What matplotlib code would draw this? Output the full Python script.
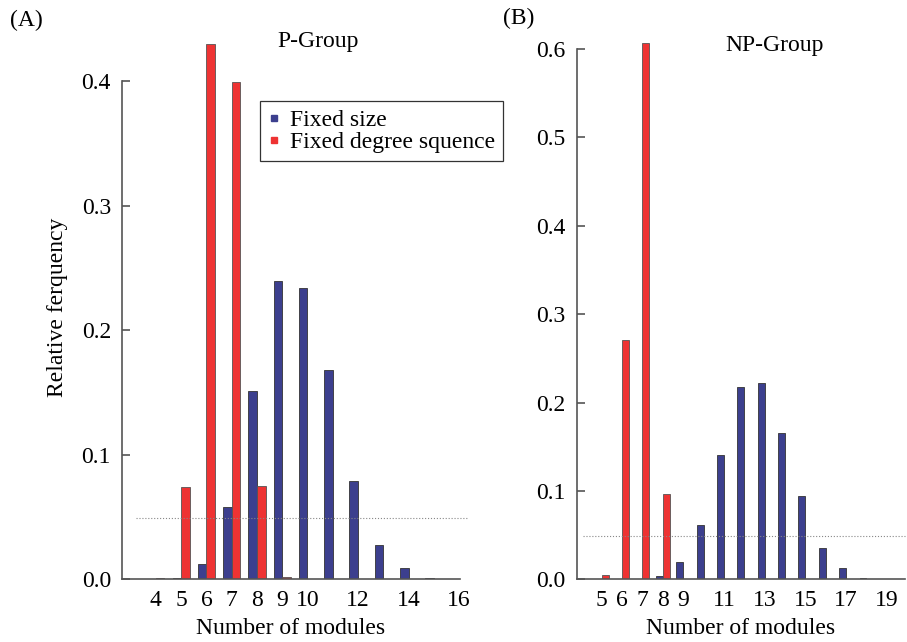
import numpy as np
import matplotlib
matplotlib.use("Agg")
import matplotlib.pyplot as plt
from matplotlib.lines import Line2D

plt.rcParams['font.family'] = ['Liberation Serif', 'DejaVu Serif']

# P-Group (A)
a_modules = [4, 5, 6, 7, 8, 9, 10, 11, 12, 13, 14, 15]
a_fixed_size = [0.0, 0.0008, 0.012, 0.058, 0.151, 0.239, 0.234, 0.168, 0.079, 0.027, 0.009, 0.001]
a_fixed_degree = [0.0008, 0.074, 0.430, 0.399, 0.075, 0.002, 0.0, 0.0, 0.0, 0.0, 0.0, 0.0]
a_xticks = [4, 5, 6, 7, 8, 9, 10, 12, 14, 16]
a_yticks = [0.0, 0.1, 0.2, 0.3, 0.4]

# NP-Group (B)
b_modules = [5, 6, 7, 8, 9, 10, 11, 12, 13, 14, 15, 16, 17, 18]
b_fixed_size = [0.0, 0.0, 0.0, 0.004, 0.020, 0.062, 0.141, 0.218, 0.222, 0.166, 0.094, 0.036, 0.013, 0.002]
b_fixed_degree = [0.005, 0.271, 0.607, 0.097, 0.0, 0.0, 0.0, 0.0, 0.0, 0.0, 0.0, 0.0, 0.0, 0.0]
b_xticks = [5, 6, 7, 8, 9, 11, 13, 15, 17, 19]
b_yticks = [0.0, 0.1, 0.2, 0.3, 0.4, 0.5, 0.6]

threshold = 0.049

BLUE = '#3c3f8e'
RED = '#ee3333'
SPINE = '#555555'
w = 0.34

fig = plt.figure(figsize=(9.07, 6.42), dpi=100)
axA = fig.add_axes([0.1345, 0.0981, 0.507 - 0.1345, 0.9455 - 0.0981])
axB = fig.add_axes([0.636, 0.0976, 0.998 - 0.636, 0.9455 - 0.0976])


def style(ax, xticks, yticks):
    for s in ['top', 'right']:
        ax.spines[s].set_visible(False)
    for s in ['left', 'bottom']:
        ax.spines[s].set_color(SPINE)
        ax.spines[s].set_linewidth(1.2)
    ax.spines['left'].set_bounds(yticks[0], yticks[-1])
    ax.set_xticks(xticks)
    ax.set_xticklabels([str(t) for t in xticks])
    ax.set_yticks(yticks)
    ax.set_yticklabels(['%.1f' % t for t in yticks])
    ax.tick_params(axis='x', length=0, labelsize=17, pad=8)
    ax.tick_params(axis='y', direction='in', length=6, width=1.2, color=SPINE,
                   labelsize=17, pad=8)
    ax.set_xlabel('Number of modules', fontsize=17, labelpad=5)


def bars(ax, mods, fs, fd):
    x = np.array(mods, dtype=float)
    ax.bar(x - w / 2, fs, width=w, color=BLUE, edgecolor='#333333', linewidth=0.6)
    ax.bar(x + w / 2, fd, width=w, color=RED, edgecolor='#555555', linewidth=0.6)


bars(axA, a_modules, a_fixed_size, a_fixed_degree)
style(axA, a_xticks, a_yticks)
axA.set_xlim(2.66, 16.03)
axA.set_ylim(0, 0.437)
axA.axhline(threshold, xmin=0.04, xmax=1.02, color='#888888', lw=0.8, ls=':', clip_on=False)
axA.set_ylabel('Relative ferquency', fontsize=17, labelpad=10)

bars(axB, b_modules, b_fixed_size, b_fixed_degree)
style(axB, b_xticks, b_yticks)
axB.set_xlim(3.78, 19.9)
axB.set_ylim(0, 0.616)
axB.axhline(threshold, xmin=0.02, xmax=1.0, color='#888888', lw=0.8, ls=':', clip_on=False)

handles = [Line2D([], [], marker='s', ls='none', color=BLUE, markersize=5),
           Line2D([], [], marker='s', ls='none', color=RED, markersize=5)]
leg = fig.legend(handles, ['Fixed size', 'Fixed degree squence'],
                 loc='upper left', bbox_to_anchor=(260 / 907, 1 - 101 / 642),
                 fontsize=17, frameon=True, fancybox=False, edgecolor='black',
                 handlelength=0.5, handletextpad=0.4, borderpad=0.35,
                 labelspacing=0.02, borderaxespad=0)
leg.get_frame().set_linewidth(0.9)

fig.text(318 / 907, 1 - 42 / 642, 'P-Group', fontsize=17, ha='center', va='center')
fig.text(775 / 907, 1 - 45 / 642, 'NP-Group', fontsize=17, ha='center', va='center')
fig.text(10 / 907, 1 - 20 / 642, '(A)', fontsize=17, ha='left', va='center')
fig.text(503 / 907, 1 - 18 / 642, '(B)', fontsize=17, ha='left', va='center')

fig.savefig('out.png', dpi=100)
